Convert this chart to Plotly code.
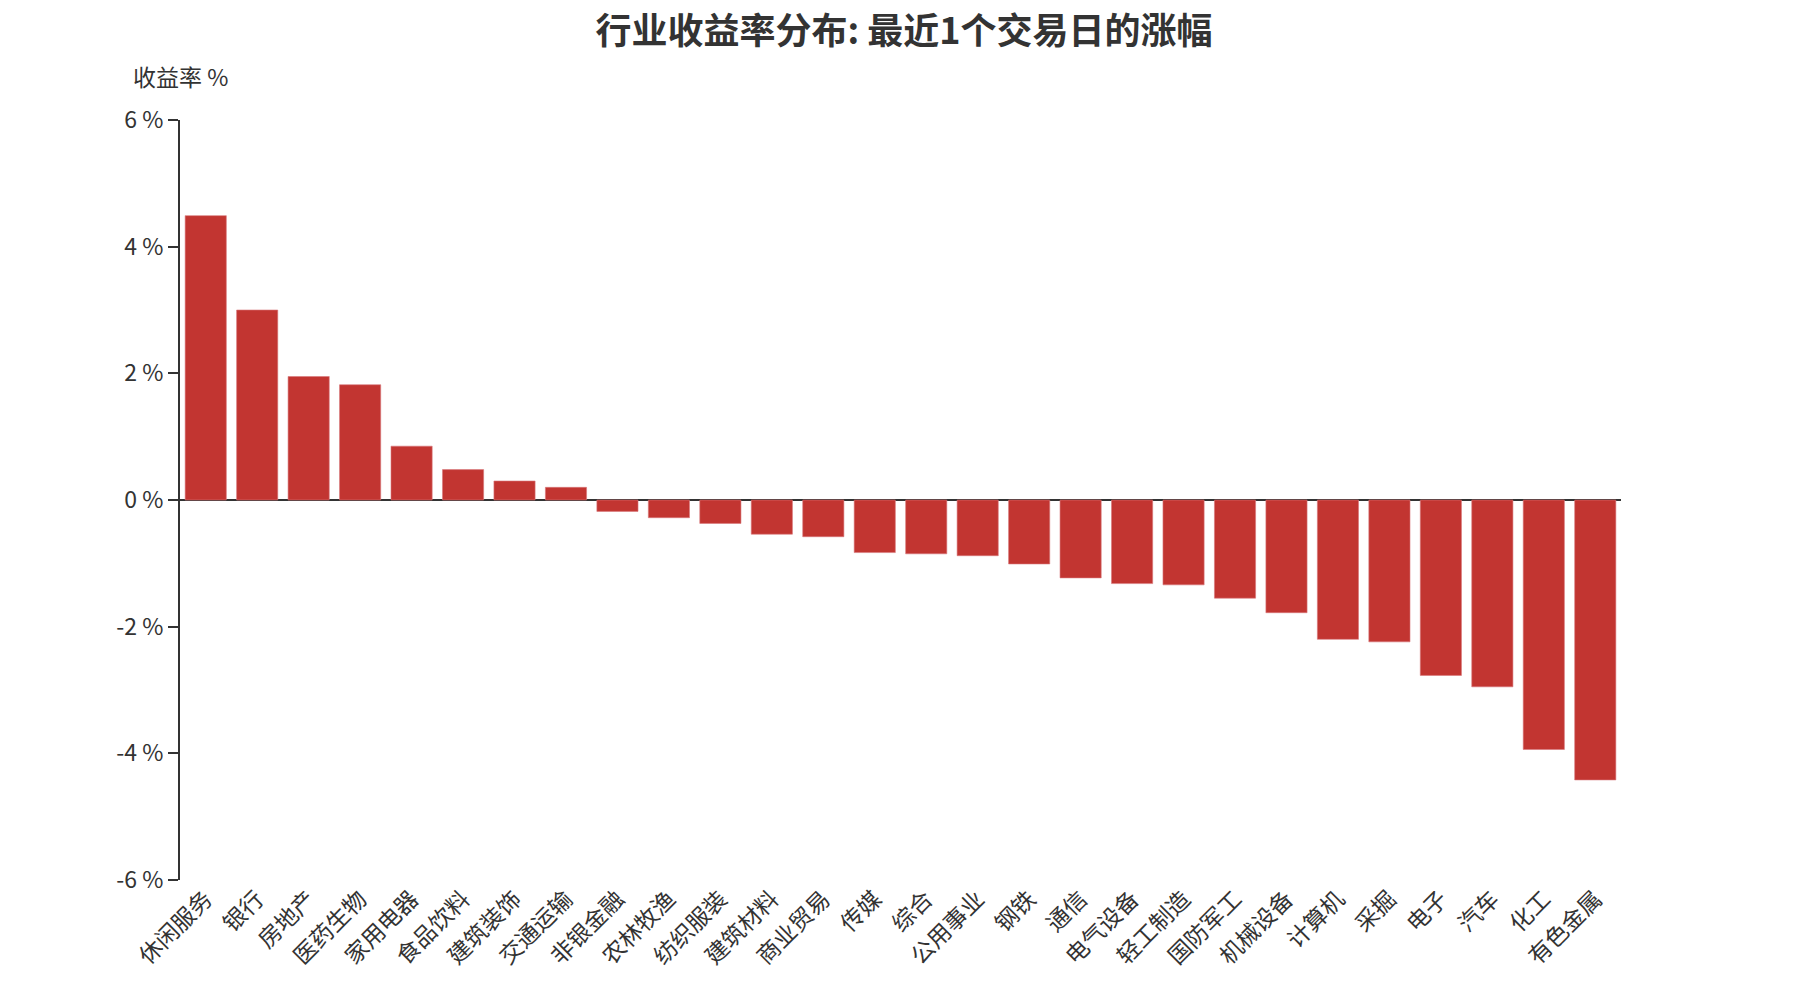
import plotly.graph_objects as go

categories = ["休闲服务", "银行", "房地产", "医药生物", "家用电器", "食品饮料", "建筑装饰", "交通运输",
              "非银金融", "农林牧渔", "纺织服装", "建筑材料", "商业贸易", "传媒", "综合", "公用事业",
              "钢铁", "通信", "电气设备", "轻工制造", "国防军工", "机械设备", "计算机", "采掘",
              "电子", "汽车", "化工", "有色金属"]
returns = [4.49, 3.00, 1.95, 1.82, 0.85, 0.48, 0.30, 0.20,
           -0.18, -0.28, -0.37, -0.54, -0.58, -0.83, -0.85, -0.88,
           -1.01, -1.23, -1.32, -1.34, -1.55, -1.78, -2.20, -2.24,
           -2.77, -2.95, -3.94, -4.42]
y_ticks = [-6, -4, -2, 0, 2, 4, 6]
y_tick_labels = ["-6 %", "-4 %", "-2 %", "0 %", "2 %", "4 %", "6 %"]

FONT = "Noto Sans CJK SC, Microsoft YaHei, sans-serif"
TXT = "#333333"

fig = go.Figure(go.Bar(
    x=categories, y=returns,
    marker=dict(color="#c23531", line=dict(color="#d9777a", width=0.6)),
))

fig.update_layout(
    width=1800, height=1000,
    paper_bgcolor="white", plot_bgcolor="white",
    margin=dict(l=172, r=187, t=112, b=128),
    bargap=0.2,
    showlegend=False,
    font=dict(family=FONT, color=TXT, size=22),
    title=dict(
        text="<b>行业收益率分布: 最近1个交易日的涨幅</b>",
        x=0.4978, xanchor="center", y=0.977, yanchor="middle",
        font=dict(family=FONT, size=36, color=TXT),
    ),
    xaxis=dict(
        type="category", showline=False, showgrid=False, zeroline=False,
        ticks="", tickangle=-45, tickfont=dict(size=23, color=TXT),
    ),
    yaxis=dict(
        range=[-6, 6], tickvals=y_ticks, ticktext=y_tick_labels,
        showline=True, linecolor=TXT, linewidth=2,
        ticks="outside", ticklen=10, tickwidth=2, tickcolor=TXT,
        showgrid=False, zeroline=True, zerolinecolor=TXT, zerolinewidth=2,
        tickfont=dict(size=23, color=TXT),
    ),
    annotations=[dict(
        text="收益率 %", xref="paper", yref="paper", x=0, y=1,
        xanchor="center", yanchor="middle", yshift=44, showarrow=False,
        font=dict(family=FONT, size=23, color=TXT),
    )],
)

fig.write_html("out.html")
